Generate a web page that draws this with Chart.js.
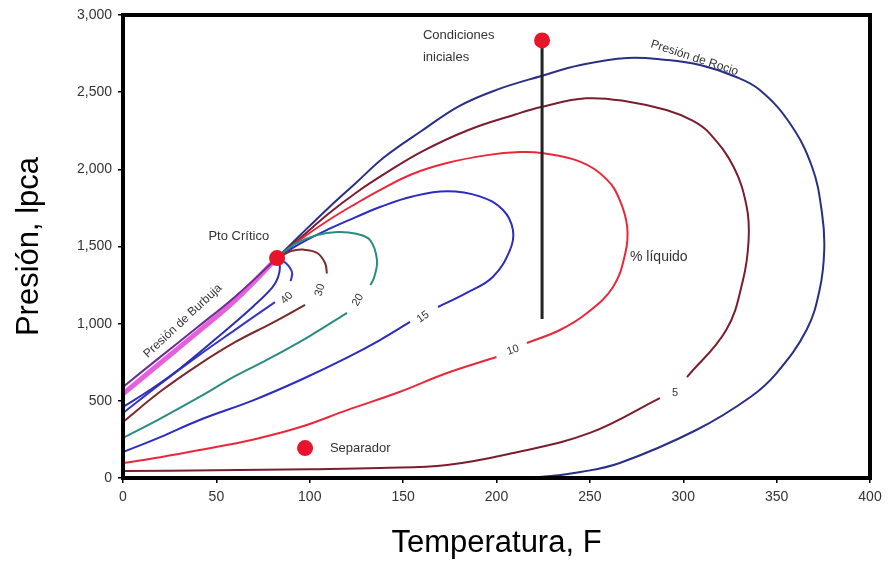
<!DOCTYPE html>
<html><head><meta charset="utf-8">
<script src="https://cdn.jsdelivr.net/npm/chart.js@4"></script>
<style>html,body{margin:0;padding:0;background:#fff}#wrap{width:888px;height:566px}</style>
</head><body><div id="wrap"><canvas id="c" width="888" height="566"></canvas></div>
<script>
// Axis ticks
const xTickValues = [0,50,100,150,200,250,300,350,400];
const yTickValues = [0,500,1000,1500,2000,2500,3000];

// Curves: [Temperatura F, Presión lpca]
const dewCurve = [[82.5,1425],[95,1575],[110,1750],[125,1915],[140,2080],[160,2250],[180,2410],[200,2515],[224,2605],[245,2676],[270,2722],[290,2710],[309,2676],[328,2600],[341,2514],[357,2300],[369,2015],[374.3,1717],[375.5,1477],[373,1218],[366,959],[350,680],[336,525],[307,311],[266,97],[245,39],[223,6],[205,0]];
const q5Upper = [[82.5,1425],[95,1555],[110,1712],[125,1850],[140,1970],[160,2115],[185,2255],[210,2355],[224,2404],[248,2460],[270,2440],[291,2384],[305,2315],[314,2235],[327,2015],[334,1756],[335,1542],[332,1283],[323,959],[302,654]];
const q5Lower = [[287.5,518],[250,292],[209,162],[173.5,84],[137.6,65],[100,57],[50,50],[0,45]];
const q10Upper = [[82.5,1425],[95,1545],[110,1670],[125,1780],[137.6,1866],[155,1970],[173.5,2041],[195,2092],[212.6,2112],[224,2106],[244.7,2050],[259,1935],[266,1801],[270,1626],[269,1458],[262.4,1238],[248.5,1069],[234,959],[216.3,875]];
const q10Lower = [[200,784],[173.5,680],[148,557],[120,440],[95,330],[70,250],[41,181],[20,135],[0,97]];
const q15Upper = [[82.5,1425],[95,1520],[110,1612],[125,1692],[137.6,1756],[155,1824],[173.5,1858],[191,1825],[203.5,1737],[208.8,1607],[207.2,1477],[198,1302],[184,1199],[168.7,1108]];
const q15Lower = [[153.7,1011],[137.6,894],[120,780],[95,635],[70,505],[41,376],[20,265],[0,168]];
const q20Upper = [[82.5,1425],[92,1515],[103.9,1575],[115,1594],[125,1582],[132.3,1542],[136,1413],[134.5,1300],[132.5,1250]];
const q20Lower = [[120,1070],[100,920],[77,765],[60,660],[41,525],[20,385],[0,259]];
const q30Upper = [[82.5,1425],[90,1470],[96.4,1480],[104,1458],[108.2,1393],[109.2,1325]];
const q30Lower = [[97.5,1121],[80,1005],[60,880],[40,730],[20,560],[0,363]];
const q40Upper = [[82.5,1425],[87,1395],[90.5,1335],[89.8,1275]];
const q40Lower = [[81.4,1140],[60,960],[40,790],[20,610],[0,421]];
const q50Curve = [[82.5,1425],[84,1370],[83,1300],[80,1235],[70,1115],[50,905],[30,705],[15,575],[0,460]];
const bubbleCurve = [[0,590],[20,785],[40,978],[60,1175],[82.5,1425]];
const bubbleBand = [[0,545],[20,745],[40,945],[60,1150],[82.5,1425]];
const isothermLine = [[224.4,2835],[224.4,1030]];
const criticalPoint = [[82.5,1425]];
const initialPoint = [[224.4,2835]];
const separatorPoint = [[97.5,194]];

// Text labels: [text, T, P, rotationDeg, fontSize, align]
const textLabels = [
  ['Pto Crítico', 62, 1568, 0, 13, 'center'],
  ['Condiciones', 160.6, 2870, 0, 13, 'left'],
  ['iniciales', 160.6, 2728, 0, 13, 'left'],
  ['Presión de Rocio', 306, 2721, 18, 12, 'center'],
  ['Presión de Burbuja', 32, 1017, -43, 12, 'center'],
  ['% líquido', 271.5, 1432, 0, 14, 'left'],
  ['Separador', 110.8, 194, 0, 13, 'left'],
  ['5', 295.6, 551, 0, 11, 'center'],
  ['10', 208.8, 829, -20, 11, 'center'],
  ['15', 160.6, 1043, -35, 11, 'center'],
  ['20', 125.8, 1153, -60, 11, 'center'],
  ['30', 105.5, 1218, -75, 11, 'center'],
  ['40', 87.8, 1166, -45, 11, 'center']
];

const pts = a => a.map(p => ({x:p[0], y:p[1]}));
const line = (data, color, w) => ({data: pts(data), showLine:true, borderColor:color, borderWidth:w||2, pointRadius:0, tension:0.4, fill:false});
const dot = (data) => ({data: pts(data), showLine:false, pointRadius:8, pointBackgroundColor:'#E8142C', pointBorderColor:'#E8142C', pointBorderWidth:0});

const frameAndText = {
  id:'frameAndText',
  afterDatasetsDraw(chart){
    const ctx = chart.ctx, a = chart.chartArea, xs = chart.scales.x, ys = chart.scales.y;
    ctx.save();
    ctx.strokeStyle = '#000'; ctx.lineWidth = 4;
    ctx.strokeRect(a.left, a.top, a.right - a.left, a.bottom - a.top);
    ctx.fillStyle = '#333';
    ctx.textBaseline = 'middle';
    textLabels.forEach(([t, T, P, rot, fs, al]) => {
      ctx.save();
      ctx.translate(xs.getPixelForValue(T), ys.getPixelForValue(P));
      ctx.rotate(rot * Math.PI / 180);
      ctx.font = fs + 'px "Liberation Sans", Arial, sans-serif';
      ctx.textAlign = al;
      ctx.fillText(t, 0, 0);
      ctx.restore();
    });
    ctx.restore();
  }
};

new Chart(document.getElementById('c'), {
  type:'scatter',
  data:{datasets:[
    dot(criticalPoint), dot(initialPoint), dot(separatorPoint),
    line(isothermLine, '#222', 3),
    line(bubbleCurve, '#6B2D8F', 2),
    line(q50Curve, '#2E2EB0', 2),
    line(q40Upper, '#3535C8', 2), line(q40Lower, '#3535C8', 2),
    line(q30Upper, '#7A2A2A', 2), line(q30Lower, '#7A2A2A', 2),
    line(q20Upper, '#2A8C80', 2), line(q20Lower, '#2A8C80', 2),
    line(q15Upper, '#2B2BC0', 2), line(q15Lower, '#2B2BC0', 2),
    line(q10Upper, '#E8283A', 2), line(q10Lower, '#E8283A', 2),
    line(q5Upper, '#7A1E2E', 2), line(q5Lower, '#7A1E2E', 2),
    line(dewCurve, '#2A2F86', 2),
    line(bubbleBand, 'rgba(225,80,215,0.9)', 5)
  ]},
  options:{
    responsive:false, devicePixelRatio:1, animation:false,
    layout:{padding:{top:15, right:18, left:0, bottom:0}},
    plugins:{legend:{display:false}, tooltip:{enabled:false}},
    scales:{
      x:{type:'linear', min:0, max:400,
        afterBuildTicks: s => { s.ticks = xTickValues.map(v => ({value:v})); },
        afterFit: s => { s.height = 88; },
        ticks:{color:'#333', font:{size:14, family:'"Liberation Sans", Arial, sans-serif'}, padding:6},
        grid:{display:true, drawOnChartArea:false, drawTicks:true, tickLength:5, color:'#000', lineWidth:1.5},
        border:{display:false},
        title:{display:true, text:'Temperatura, F', color:'#000', font:{size:31, family:'"Liberation Sans", Arial, sans-serif'}, padding:{top:0, bottom:4}}
      },
      y:{type:'linear', min:0, max:3000,
        afterBuildTicks: s => { s.ticks = yTickValues.map(v => ({value:v})); },
        afterFit: s => { s.width = 123; },
        ticks:{color:'#333', font:{size:14, family:'"Liberation Sans", Arial, sans-serif'}, padding:6, callback: v => v.toLocaleString('en-US')},
        grid:{display:true, drawOnChartArea:false, drawTicks:true, tickLength:5, color:'#000', lineWidth:1.5},
        border:{display:false},
        title:{display:true, text:'Presión, lpca', color:'#000', font:{size:31, family:'"Liberation Sans", Arial, sans-serif'}, padding:{top:11, bottom:0}}
      }
    }
  },
  plugins:[frameAndText]
});
</script></body></html>
